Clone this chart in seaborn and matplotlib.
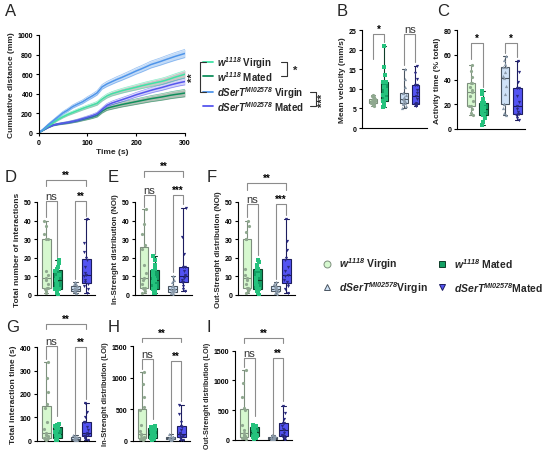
import numpy as np
import pandas as pd
import matplotlib
matplotlib.use("Agg")
import matplotlib.pyplot as plt
import seaborn as sns

# ---------------- data ----------------
# group keys: w1118 virgin / mated, dSerT virgin / mated
groups = ["wV", "wM", "sV", "sM"]

# panel A: cumulative distance (mm), mean and SEM every 10 s
time_s = [0, 10, 20, 30, 40, 50, 60, 70, 80, 90, 100, 110, 120, 130, 140, 150,
          160, 170, 180, 190, 200, 210, 220, 230, 240, 250, 260, 270, 280, 290, 300]
dist_sV = [0, 40, 85, 125, 165, 205, 235, 270, 295, 318, 350, 378, 410, 470, 500, 523,
           546, 566, 588, 610, 633, 653, 675, 698, 714, 730, 748, 765, 782, 797, 812]
sem_sV = [0, 6, 9, 11, 13, 15, 16, 17, 18, 19, 20, 21, 22, 24, 26, 27,
          28, 29, 30, 31, 32, 33, 34, 35, 36, 37, 38, 39, 40, 41, 42]
dist_wV = [0, 35, 72, 105, 138, 166, 190, 210, 230, 250, 268, 285, 303, 345, 378, 400,
           415, 430, 443, 455, 467, 480, 492, 503, 514, 524, 537, 553, 570, 585, 600]
sem_wV = [0, 4, 7, 9, 11, 12, 13, 14, 15, 16, 17, 18, 19, 20, 21, 22,
          23, 24, 25, 26, 27, 28, 29, 30, 31, 32, 33, 34, 35, 36, 37]
dist_sM = [0, 30, 58, 80, 92, 100, 108, 118, 130, 145, 160, 176, 196, 240, 282, 305,
           322, 338, 355, 372, 390, 405, 420, 435, 449, 461, 475, 490, 503, 515, 525]
sem_sM = [0, 3, 5, 7, 8, 9, 10, 11, 12, 13, 14, 15, 16, 17, 18, 19,
          20, 21, 22, 23, 24, 25, 26, 27, 28, 29, 30, 31, 32, 33, 34]
dist_wM = [0, 30, 58, 80, 90, 98, 105, 115, 125, 138, 150, 163, 180, 222, 252, 266,
           278, 290, 300, 310, 320, 330, 340, 350, 358, 366, 375, 385, 393, 400, 408]
sem_wM = [0, 3, 5, 7, 8, 9, 10, 11, 12, 13, 14, 15, 17, 19, 21, 23,
          24, 25, 26, 27, 28, 29, 30, 31, 32, 33, 34, 35, 36, 37, 38]

# panel B: mean velocity (mm/s)
velocity = {
    "wV": [5.5, 5.8, 6.1, 6.3, 6.3, 6.5, 6.7, 6.9, 7.0, 7.2, 7.5, 7.5, 7.9, 8.2, 8.5],
    "wM": [5.3, 5.6, 6.2, 6.8, 6.8, 7.5, 8.3, 9.0, 9.6, 10.5, 11.8, 11.8, 13.5, 15.5, 21.0],
    "sV": [5.0, 5.6, 6.0, 6.5, 6.5, 6.8, 7.2, 7.5, 7.9, 8.4, 9.0, 9.0, 10.5, 12.5, 15.0],
    "sM": [5.7, 5.8, 5.9, 6.0, 6.0, 6.4, 7.3, 8.2, 8.9, 9.8, 11.0, 11.0, 12.4, 14.0, 15.8],
}
# panel C: activity time (% total)
activity = {
    "wV": [11, 13, 16, 19, 19, 23, 27, 30, 32, 34, 37, 37, 42, 47, 52],
    "wM": [3, 6, 9, 11, 11, 13, 15, 16, 17, 19, 21, 21, 24, 28, 31],
    "sV": [11, 13, 17, 20.5, 20.5, 28, 35, 41, 43, 46, 50, 50, 53, 56, 59],
    "sM": [7, 9, 11, 12.5, 12.5, 14, 16, 19, 22, 27, 33, 33, 38, 46, 55],
}
# panel D: total number of interactions
interactions = {
    "wV": [1, 2, 3, 4, 4, 6, 8, 9, 11, 13, 30, 30, 33, 37, 40],
    "wM": [0, 1, 2, 3, 3, 5, 6, 8, 9, 11, 13, 14, 15, 17, 19],
    "sV": [1, 1, 2, 2, 2, 3, 3, 3, 4, 4, 5, 5, 6, 6, 7],
    "sM": [1, 3, 5, 6, 7, 8, 10, 11, 12, 15, 19, 20, 23, 28, 41],
}
# panel E: in-strength (NOI)
in_noi = {
    "wV": [1, 2, 3, 4, 4, 6, 8, 9, 12, 16, 25, 27, 33, 38, 46],
    "wM": [1, 1, 2, 3, 3, 5, 7, 8, 9, 11, 13, 14, 16, 19, 21],
    "sV": [0, 1, 1, 1, 2, 2, 2, 3, 3, 4, 5, 5, 7, 8, 10],
    "sM": [2, 3, 5, 7, 7, 8, 9, 10, 11, 13, 15, 15, 22, 31, 47],
}
# panel F: out-strength (NOI)
out_noi = {
    "wV": [1, 2, 3, 4, 4, 6, 8, 9, 11, 14, 30, 30, 34, 37, 40],
    "wM": [0, 1, 2, 3, 3, 5, 6, 8, 9, 11, 14, 14, 16, 18, 19],
    "sV": [0, 1, 1, 2, 2, 3, 3, 3, 4, 4, 5, 5, 6, 6, 7],
    "sM": [1, 3, 5, 6, 7, 8, 10, 11, 13, 15, 19, 20, 24, 29, 41],
}
# panel G: total interaction time (s)
inter_time = {
    "wV": [5, 7, 10, 12, 12, 18, 26, 35, 48, 80, 140, 156, 210, 270, 338],
    "wM": [2, 5, 9, 12, 12, 18, 24, 30, 38, 47, 56, 60, 64, 68, 72],
    "sV": [2, 3, 4, 5, 5, 6, 7, 8, 9, 11, 14, 16, 19, 22, 25],
    "sM": [3, 6, 12, 18, 22, 26, 30, 35, 44, 60, 78, 82, 100, 125, 160],
}
# panel H: in-strength (LOI)
in_loi = {
    "wV": [10, 20, 30, 40, 40, 60, 85, 110, 160, 250, 480, 530, 700, 900, 1090],
    "wM": [10, 20, 35, 50, 50, 70, 90, 110, 130, 160, 190, 200, 215, 230, 240],
    "sV": [5, 8, 12, 20, 20, 25, 30, 35, 40, 48, 55, 55, 65, 80, 100],
    "sM": [5, 15, 35, 55, 65, 80, 95, 110, 130, 170, 220, 240, 300, 420, 575],
}
# panel I: out-strength (LOI)
out_loi = {
    "wV": [20, 30, 40, 50, 50, 70, 90, 115, 170, 260, 500, 530, 720, 950, 1180],
    "wM": [20, 35, 50, 60, 60, 80, 110, 130, 150, 180, 205, 215, 225, 235, 245],
    "sV": [5, 8, 12, 20, 20, 25, 30, 35, 40, 48, 55, 55, 65, 75, 90],
    "sM": [5, 20, 40, 60, 70, 90, 110, 165, 190, 230, 280, 290, 350, 450, 565],
}

# ---------------- style ----------------
sns.set_theme(style="ticks")
plt.rcParams["font.family"] = ["Liberation Sans", "DejaVu Sans"]
plt.rcParams["font.weight"] = "bold"
plt.rcParams["axes.labelweight"] = "bold"
plt.rcParams["mathtext.fontset"] = "custom"
plt.rcParams["mathtext.rm"] = "Liberation Sans:bold"
plt.rcParams["mathtext.it"] = "Liberation Sans:italic:bold"
plt.rcParams["mathtext.bf"] = "Liberation Sans:bold"
plt.rcParams["mathtext.bfit"] = "Liberation Sans:italic:bold"
plt.rcParams["axes.linewidth"] = 0.8

group_pos = {"wV": 0, "wM": 1, "sV": 2.7, "sM": 3.7}
fills = {"wV": "#d6f8cf", "wM": "#12a064", "sV": "#cfe2f7", "sM": "#5353f2"}
edges = {"wV": "#7d8f7d", "wM": "#0f3d28", "sV": "#4a5560", "sM": "#1d1d5e"}
pt_cols = {"wV": "#8fa88f", "wM": "#25c27d", "sV": "#8a9aaa", "sM": "#2a2a80"}
markers = {"wV": "o", "wM": "s", "sV": "^", "sM": "v"}

W, H = 550, 456
fig = plt.figure(figsize=(W / 100, H / 100), dpi=100)


def px_rect(left, top, right, bottom):
    return [left / W, 1 - bottom / H, (right - left) / W, (bottom - top) / H]


def style_axis(ax):
    sns.despine(ax=ax)
    ax.tick_params(length=2.5, width=0.8, pad=1.5, labelsize=5, colors="black")
    for s in ["left", "bottom"]:
        ax.spines[s].set_color("black")


# ---------------- panel A ----------------
axA = fig.add_axes(px_rect(38.5, 36, 185, 134))
curves = [
    (dist_wM, sem_wM, "#0f8f5c", "#6f8f78", 0.55),
    (dist_sM, sem_sM, "#5656ee", "#a9a9f5", 0.5),
    (dist_wV, sem_wV, "#3fe3a6", "#9a9e9a", 0.55),
    (dist_sV, sem_sV, "#4f95ea", "#9cc3f2", 0.6),
]
t_arr = np.array(time_s)
for mean, sem, lc, bc, al in curves:
    m = np.array(mean)
    s = np.array(sem)
    axA.fill_between(t_arr, m - s, m + s, color=bc, alpha=al, lw=0)
    sns.lineplot(x=t_arr, y=m + s, color=lc, lw=0.5, alpha=0.6, ax=axA)
    sns.lineplot(x=t_arr, y=m - s, color=lc, lw=0.5, alpha=0.6, ax=axA)
    sns.lineplot(x=t_arr, y=m, color=lc, lw=1.1, ax=axA)
axA.set_xlim(0, 300)
axA.set_ylim(0, 1000)
axA.set_xticks([0, 100, 200, 300])
axA.set_yticks([0, 200, 400, 600, 800, 1000])
axA.set_xlabel("Time (s)", fontsize=6, labelpad=1.5)
axA.set_ylabel("Cumulative distance (mm)", fontsize=6, labelpad=2)
style_axis(axA)


# ---------------- box panels ----------------
def box_panel(rect, values, ylim, yticks, ylabel, xlim, width, brackets, lab_size=6):
    ax = fig.add_axes(rect)
    df = pd.DataFrame({
        "group": np.repeat(groups, [len(values[g]) for g in groups]),
        "value": np.concatenate([values[g] for g in groups]),
    })
    df["x"] = df["group"].map(group_pos)
    for g in groups:
        sub = df[df["group"] == g]
        sns.boxplot(data=sub, x="x", y="value", orient="x", native_scale=True,
                    width=width, whis=(0, 100), color=fills[g], saturation=1,
                    linecolor=edges[g], linewidth=0.8, fliersize=0, ax=ax)
    for g in groups:
        sub = df[df["group"] == g]
        sns.stripplot(data=sub, x="x", y="value", orient="x", native_scale=True,
                      jitter=width * 0.25, marker=markers[g], color=pt_cols[g],
                      size=2.3, linewidth=0, ax=ax, zorder=3)
    ax.set_xlim(*xlim)
    ax.set_ylim(*ylim)
    ax.set_yticks(yticks)
    ax.set_xticks([])
    ax.set_xlabel("")
    ax.set_ylabel(ylabel, fontsize=lab_size, labelpad=2)
    style_axis(ax)
    for i, j, top, lend, rend, lab in brackets:
        x1, x2 = group_pos[groups[i]], group_pos[groups[j]]
        ax.plot([x1, x1, x2, x2], [lend, top, top, rend], color="#8c8c8c",
                lw=0.8, clip_on=False)
        if lab == "ns":
            ax.text((x1 + x2) / 2, top, lab, ha="center", va="bottom",
                    fontsize=8, fontweight="normal", color="#333333")
        else:
            ax.text((x1 + x2) / 2, top, lab, ha="center", va="bottom",
                    fontsize=7, fontweight="bold", color="black")
    return ax


box_panel(px_rect(362, 31, 427, 129), velocity, (0, 25), [0, 5, 10, 15, 20, 25],
          "Mean velocity (mm/s)", (-0.95, 4.7), 0.65,
          [(0, 1, 24, 17.5, 22, "*"), (2, 3, 24, 16, 16.8, "ns")])
box_panel(px_rect(457, 31.3, 525, 130), activity, (0, 80), [0, 20, 40, 60, 80],
          "Activity time (% total)", (-1.1, 4.3), 0.65,
          [(0, 1, 69.5, 57, 34, "*"), (2, 3, 69.5, 62, 58, "*")])
box_panel(px_rect(37, 203, 95, 296), interactions, (0, 50), [0, 10, 20, 30, 40, 50],
          "Total number of interactions", (-0.85, 4.5), 0.82,
          [(0, 1, 50.5, 42, 20.5, "ns"), (2, 3, 50.5, 8.5, 42.5, "**"),
           (0, 3, 62, 58.5, 58.5, "**")])
box_panel(px_rect(135, 203, 192, 296), in_noi, (0, 50), [0, 10, 20, 30, 40, 50],
          "In-Strenght distribution (NOI)", (-0.85, 4.5), 0.82,
          [(0, 1, 54, 47.5, 22, "ns"), (2, 3, 54, 12.5, 48.7, "***"),
           (0, 3, 66.5, 63.5, 63.5, "**")], lab_size=5.7)
box_panel(px_rect(238, 203, 295, 296), out_noi, (0, 50), [0, 10, 20, 30, 40, 50],
          "Out-Strenght distribution (NOI)", (-0.85, 4.5), 0.82,
          [(0, 1, 49, 42, 21.4, "ns"), (2, 3, 49, 8.7, 43, "***"),
           (0, 3, 60.3, 56.7, 56.7, "**")], lab_size=5.7)
box_panel(px_rect(37, 348.3, 95, 441.7), inter_time, (0, 400), [0, 100, 200, 300, 400],
          "Total interaction time (s)", (-0.85, 4.5), 0.82,
          [(0, 1, 407, 350, 105, "ns"), (2, 3, 402, 30, 178, "**"),
           (0, 3, 500, 478, 478, "**")])
box_panel(px_rect(133, 347.3, 190, 441.7), in_loi, (0, 1500), [0, 500, 1000, 1500],
          "In-Strenght distribution (LOI)", (-0.85, 4.5), 0.82,
          [(0, 1, 1300, 1140, 345, "ns"), (2, 3, 1270, 110, 636, "**"),
           (0, 3, 1633, 1564, 1564, "**")], lab_size=5.4)
box_panel(px_rect(235, 351.7, 292, 441), out_loi, (0, 1500), [0, 500, 1000, 1500],
          "Out-Strenght distribution (LOI)", (-0.85, 4.5), 0.82,
          [(0, 1, 1378, 1221, 408, "ns"), (2, 3, 1373, 75, 660, "**"),
           (0, 3, 1714, 1625, 1625, "**")], lab_size=5.2)

# ---------------- overlay: panel letters, legends ----------------
ov = fig.add_axes([0, 0, 1, 1])
ov.set_xlim(0, W)
ov.set_ylim(H, 0)
ov.axis("off")

for lab, x, y in [("A", 5, 12), ("B", 337, 12), ("C", 437, 12),
                  ("D", 5, 178), ("E", 108, 178), ("F", 207, 178),
                  ("G", 6, 328), ("H", 108, 328), ("I", 207, 328)]:
    ov.text(x, y, lab, fontsize=12, fontweight="normal", ha="left", va="center")

w_lab = r"$\mathbfit{w}^{\mathbfit{1118}}$"
s_lab = r"$\mathbfit{dSerT}^{\mathbfit{MI02578}}$"

# legend of panel A
leg_a = [(w_lab + " Virgin", "#3fe3a6", 62.7), (w_lab + " Mated", "#0f8f5c", 77.3),
         (s_lab + " Virgin", "#4f95ea", 92.7), (s_lab + " Mated", "#5656ee", 107.3)]
for txt, col, y in leg_a:
    ov.plot([203, 213], [y, y], color=col, lw=1.3)
    ov.text(217, y, txt, fontsize=7, fontweight="bold", ha="left", va="center")
bk = "#333333"
ov.plot([281, 287, 287, 281], [62.7, 62.7, 77.3, 77.3], color=bk, lw=0.8)
ov.text(293, 71, "*", fontsize=8, ha="left", va="center")
ov.plot([206, 200, 200, 206], [62.7, 62.7, 92.7, 92.7], color=bk, lw=0.8)
ov.text(193, 77.5, "**", fontsize=8, rotation=90, ha="center", va="center")
ov.plot([310, 316, 316, 310], [92.7, 92.7, 107.3, 107.3], color=bk, lw=0.8)
ov.text(323, 100, "***", fontsize=8, rotation=90, ha="center", va="center")

# legend of the box panels
leg_b = [("wV", w_lab + " Virgin", 327, 264.5), ("wM", w_lab + " Mated", 442, 264.5),
         ("sV", s_lab + "Virgin", 327, 287.7), ("sM", s_lab + "Mated", 442, 287.7)]
for g, txt, x, y in leg_b:
    ov.plot([x], [y], marker=markers[g], ms=5, color=fills[g],
            markeredgecolor=edges[g], markeredgewidth=0.7, ls="none")
    ov.text(x + 12, y, txt, fontsize=7.5, fontweight="bold", ha="left", va="center")

fig.savefig("out.png", dpi=100)
